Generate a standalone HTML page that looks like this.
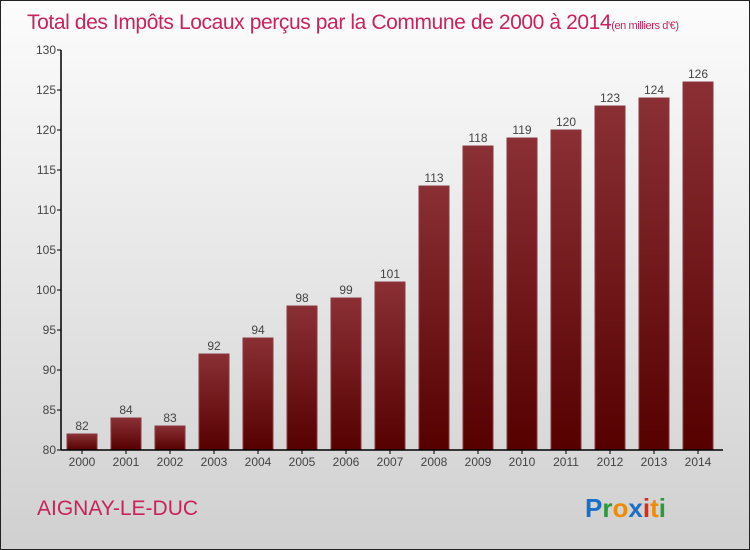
<!DOCTYPE html>
<html><head><meta charset="utf-8"><style>
body{margin:0}
#wrap{width:748px;height:548px;border:1px solid #222;background:linear-gradient(#fcfcfc,#d0d0d0);position:relative;overflow:hidden;font-family:"Liberation Sans",sans-serif}
</style></head><body>
<div id="wrap">
<svg id="c" width="748" height="548">
<defs><linearGradient id="bg" x1="0" y1="0" x2="0" y2="1"><stop offset="0" stop-color="#8a3035"/><stop offset="1" stop-color="#560000"/></linearGradient></defs>
<text x="26" y="28" font-size="21" fill="#c8235a" style="letter-spacing:-0.4px">Total des Impôts Locaux perçus par la Commune de 2000 à 2014<tspan font-size="11">(en milliers d'€)</tspan></text>
<text x="36" y="514" font-size="21" fill="#c8235a">AIGNAY-LE-DUC</text>
<text x="584" y="516" font-size="26" font-weight="bold"><tspan fill="#1a6fc9">P</tspan><tspan fill="#2a9a3a">r</tspan><tspan fill="#f08a00">o</tspan><tspan fill="#1a6fc9">x</tspan><tspan fill="#e02a10">i</tspan><tspan fill="#f08a00">t</tspan><tspan fill="#2a9a3a">i</tspan></text>
</svg>
</div>
<script>
const years=["2000","2001","2002","2003","2004","2005","2006","2007","2008","2009","2010","2011","2012","2013","2014"];
const values=[82,84,83,92,94,98,99,101,113,118,119,120,123,124,126];
const yTicks=[80,85,90,95,100,105,110,115,120,125,130];
const svg=document.getElementById('c');const NS='http://www.w3.org/2000/svg';
const x0=60,yMin=80,yMax=130,yTop=49,yBottom=449,pitch=44,bw=30;
const y=v=>yBottom-(v-yMin)/(yMax-yMin)*(yBottom-yTop);
const xc=i=>x0+21+i*pitch;
function mk(t,a){const e=document.createElementNS(NS,t);for(const k in a)e.setAttribute(k,a[k]);svg.appendChild(e);return e;}
yTicks.forEach(t=>{
 const l=mk('line',{x1:x0-4,x2:x0,y1:y(t),y2:y(t),stroke:'#000'});
 
 
 const tx=mk('text',{x:x0-5,y:y(t)+4,'font-size':12,'text-anchor':'end',fill:'#444'});tx.textContent=t;
 
 
});
values.forEach((v,i)=>{
 const r=mk('rect',{x:xc(i)-bw/2,y:y(v),width:bw,height:yBottom-y(v),fill:'url(#bg)',stroke:'#8a3a40','stroke-width':1});
 
 
 const vl=mk('text',{x:xc(i),y:y(v)-4,'font-size':12,'text-anchor':'middle',fill:'#444'});vl.textContent=v;
 
 
 const tk=mk('line',{x1:xc(i),x2:xc(i),y1:yBottom,y2:yBottom+4,stroke:'#000'});
 
 
 const xl=mk('text',{x:xc(i),y:yBottom+16,'font-size':12,'text-anchor':'middle',fill:'#444'});xl.textContent=years[i];
 
 
});
const ya=mk('line',{x1:x0,x2:x0,y1:yTop,y2:yBottom,stroke:'#000','stroke-width':1.5});


const xa=mk('line',{x1:x0,x2:722,y1:yBottom,y2:yBottom,stroke:'#000','stroke-width':1.5});


</script>
</body></html>
